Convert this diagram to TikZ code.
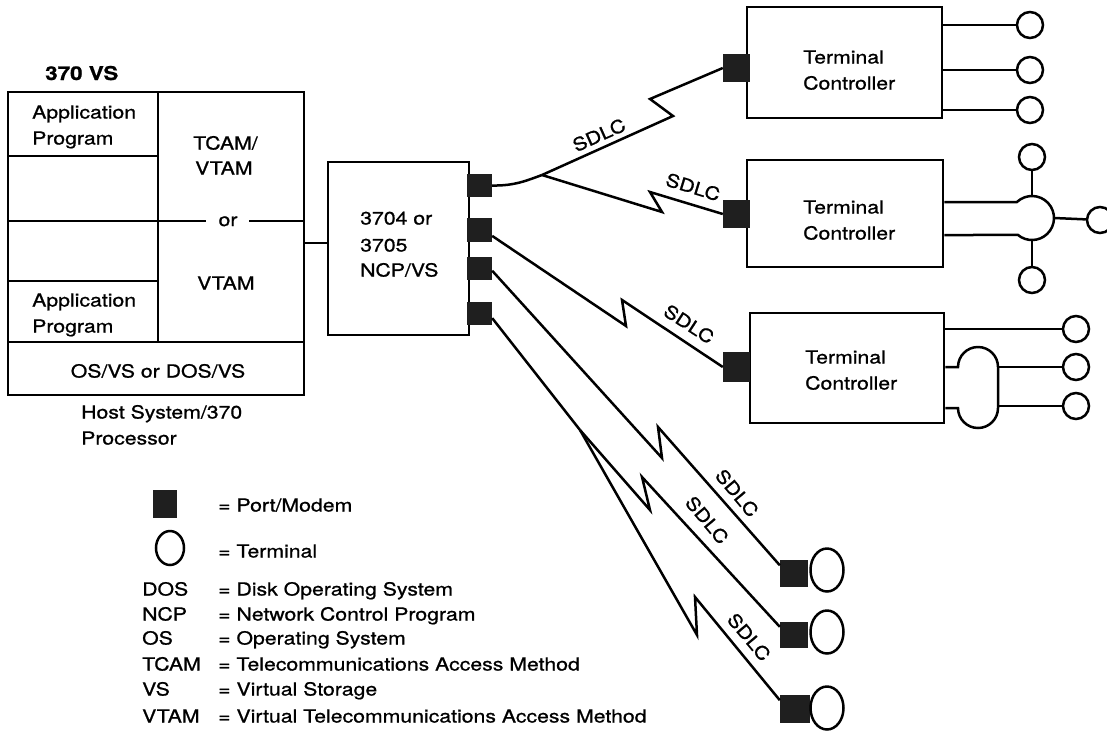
\documentclass[tikz,border=0pt]{standalone}
\usepackage{fontspec}
\setmainfont{TeX Gyre Heros}[FakeStretch=1.18,FakeBold=0.9]
\usetikzlibrary{shapes.geometric}
\begin{document}
\begin{tikzpicture}[x=1pt,y=-1pt,
  every node/.style={font=\fontsize{18}{20}\selectfont},
  lbl/.style={inner sep=0, anchor=base west},
  clbl/.style={inner sep=0, anchor=base},
  frame/.style={draw, line width=2.6pt, inner sep=0, rectangle},
  boxline/.style={line width=2.6pt},
  wire/.style={line width=2.5pt},
  port/.style={fill=black!88, inner sep=0, rectangle},
  term/.style={draw, fill=white, circle, line width=2.5pt, inner sep=0, minimum size=26pt},
  bigterm/.style={draw, fill=white, ellipse, line width=2.5pt, inner sep=0, minimum width=33pt, minimum height=43pt},
  sdlc/.style={inner sep=0, font=\fontsize{18}{20}\selectfont}]
\fill[white] (0,0) rectangle (1107,734);
\useasboundingbox (0,0) rectangle (1107,734);

% ---------- host ----------
\node[lbl, font=\fontsize{19}{21}\selectfont\bfseries] (t370) at (45,80) {370 VS};
\node[frame, minimum width=296pt, minimum height=303pt] (host) at (156,243.5) {};
\draw[boxline] (158,92) -- (158,342);
\draw[boxline] (8,156) -- (158,156);
\draw[boxline] (8,221) -- (206,221);
\draw[boxline] (249,221) -- (304,221);
\draw[boxline] (8,281) -- (158,281);
\draw[boxline] (8,342) -- (304,342);
\node[lbl] (app1a) at (32,118.5) {Application};
\node[lbl] (app1b) at (32,144.5) {Program};
\node[lbl] (tcam) at (193,149.5) {TCAM/};
\node[lbl] (vtam1) at (195,174.5) {VTAM};
\node[clbl] (or) at (228,226) {or};
\node[lbl] (vtam2) at (197,289.5) {VTAM};
\node[lbl] (app2a) at (32,306.5) {Application};
\node[lbl] (app2b) at (32,332.5) {Program};
\node[clbl] (osvs) at (158,377.5) {OS/VS or DOS/VS};
\node[lbl] (hs1) at (81,418.5) {Host System/370};
\node[lbl] (hs2) at (81,444.5) {Processor};

% ---------- NCP ----------
\node[frame, minimum width=141pt, minimum height=173pt] (ncp) at (398.5,248.5) {};
\node[lbl] (n1) at (360,224.5) {3704 or};
\node[lbl] (n2) at (360,251.5) {3705};
\node[lbl] (n3) at (360,276.5) {NCP/VS};
\draw[wire] (host.east |- 0,243) -- (ncp.west |- 0,243);
\node[port, minimum width=25pt, minimum height=23pt] (p1) at (479.5,185.5) {};
\node[port, minimum width=25pt, minimum height=24pt] (p2) at (479.5,230) {};
\node[port, minimum width=25pt, minimum height=23pt] (p3) at (479.5,268.5) {};
\node[port, minimum width=25pt, minimum height=23pt] (p4) at (479.5,313.5) {};

% ---------- terminal controllers ----------
\node[frame, minimum width=195pt, minimum height=111pt] (tc1) at (844.5,62.5) {};
\node[lbl] (tc1a) at (803,63.5) {Terminal};
\node[lbl] (tc1b) at (803,89.5) {Controller};
\node[port, minimum width=27pt, minimum height=28pt] (q1) at (736.5,68) {};

\node[frame, minimum width=196pt, minimum height=107pt] (tc2) at (845,213.5) {};
\node[lbl] (tc2a) at (803,213.5) {Terminal};
\node[lbl] (tc2b) at (803,239.5) {Controller};
\node[port, minimum width=27pt, minimum height=28pt] (q2) at (736.5,214) {};

\node[frame, minimum width=194pt, minimum height=110pt] (tc3) at (847,368) {};
\node[lbl] (tc3a) at (805,363.5) {Terminal};
\node[lbl] (tc3b) at (805,389.5) {Controller};
\node[port, minimum width=27pt, minimum height=30pt] (q3) at (736.5,367) {};

% terminals of TC1
\node[term] (u1) at (1030,25) {};
\node[term] (u2) at (1030,70) {};
\node[term] (u3) at (1030,110) {};
\draw[wire] (tc1.east |- u1) -- (u1);
\draw[wire] (tc1.east |- u2) -- (u2);
\draw[wire] (tc1.east |- u3) -- (u3);

% terminals of TC2 (hub)
\node[circle, minimum size=44pt, inner sep=0] (hub) at (1032,218) {};
\node[term] (v1) at (1032,157) {};
\node[term] (v2) at (1032,280) {};
\node[term] (v3) at (1100,220) {};
\coordinate (hu) at (1016.9,202);
\coordinate (hl) at (1018,235);
\draw[wire] (tc2.east |- hu) -- (hu) arc[start angle=133.3, end angle=-129.5, radius=22pt] -- (tc2.east |- hl);
\draw[wire] (hub.north) -- (v1);
\draw[wire] (hub.south) -- (v2);
\draw[wire] (hub.east) -- (v3);

% terminals of TC3 (loop)
\node[term] (w1) at (1076,329) {};
\node[term] (w2) at (1076,367) {};
\node[term] (w3) at (1076,406) {};
\coordinate (lu) at (958,367);
\coordinate (ld) at (998,408);
\draw[wire] (tc3.east |- w1) -- (w1);
\draw[wire] (tc3.east |- lu) -- (lu) arc[start angle=180, end angle=0, radius=20pt] -- (ld) arc[start angle=0, end angle=-180, radius=20pt] -- (tc3.east |- ld);
\draw[wire] (998,367) -- (w2);
\draw[wire] (998,406) -- (w3);

% remote terminals
\node[port, minimum width=28pt, minimum height=27pt] (r1) at (794,573.5) {};
\node[bigterm] (e1) at (827,570) {};
\node[port, minimum width=28pt, minimum height=26pt] (r2) at (794,635) {};
\node[bigterm] (e2) at (827,632) {};
\node[port, minimum width=30pt, minimum height=28pt] (r3) at (795,709) {};
\node[bigterm] (e3) at (827,708) {};

% ---------- SDLC links ----------
\coordinate (J) at (542,175);
\coordinate (a1) at (673,116);
\coordinate (a2) at (650,99);
\coordinate (b1) at (662,212);
\coordinate (b2) at (650,192);
\coordinate (c1) at (626,326);
\coordinate (c2) at (622,300);
\coordinate (d1) at (662,458);
\coordinate (d2) at (658,427);
\coordinate (B) at (580,430);
\coordinate (f1) at (650,510);
\coordinate (f2) at (642,477);
\coordinate (g1) at (697,635);
\coordinate (g2) at (695,597);

\draw[wire] (p1.east) .. controls (515,186) and (528,180) .. (J);
\draw[wire, line join=miter] (J) -- (a1) -- (a2) -- (q1.west);
\draw[wire, line join=miter] (J) -- (b1) -- (b2) -- (q2.west);
\draw[wire, line join=miter] (p2.-25) -- (c1) -- (c2) -- (q3.west);
\draw[wire, line join=miter] (p3.-10) -- (d1) -- (d2) -- (r1.150);
\draw[wire] (p4.-20) -- (B);
\draw[wire, line join=miter] (B) -- (f1) -- (f2) -- (r2.150);
\draw[wire, line join=miter] (B) -- (g1) -- (g2) -- (r3.150);

\node[sdlc, rotate=24] (s1) at (599,135) {SDLC};
\node[sdlc, rotate=-17] (s2) at (693,187) {SDLC};
\node[sdlc, rotate=-33] (s3) at (689,324) {SDLC};
\node[sdlc, rotate=-50] (s4) at (737,493) {SDLC};
\node[sdlc, rotate=-50] (s5) at (707,520) {SDLC};
\node[sdlc, rotate=-50] (s6) at (749,637) {SDLC};

% ---------- legend ----------
\node[port, minimum width=24pt, minimum height=28pt] (legport) at (165,504) {};
\node[draw, ellipse, line width=2.5pt, inner sep=0, minimum width=28pt, minimum height=34pt] (legterm) at (170,548) {};
\node[lbl] (lg1) at (218,511.5) {= Port/Modem};
\node[lbl] (lg2) at (218,557.5) {= Terminal};
\node[lbl] (ab1) at (142,595.5) {DOS};
\node[lbl] (ds1) at (218,595.5) {= Disk Operating System};
\node[lbl] (ab2) at (142,620.5) {NCP};
\node[lbl] (ds2) at (218,620.5) {= Network Control Program};
\node[lbl] (ab3) at (142,644.5) {OS};
\node[lbl] (ds3) at (218,644.5) {= Operating System};
\node[lbl] (ab4) at (142,670.5) {TCAM};
\node[lbl] (ds4) at (218,670.5) {= Telecommunications Access Method};
\node[lbl] (ab5) at (142,695.5) {VS};
\node[lbl] (ds5) at (218,695.5) {= Virtual Storage};
\node[lbl] (ab6) at (142,722.5) {VTAM};
\node[lbl] (ds6) at (218,722.5) {= Virtual Telecommunications Access Method};
\end{tikzpicture}
\end{document}
